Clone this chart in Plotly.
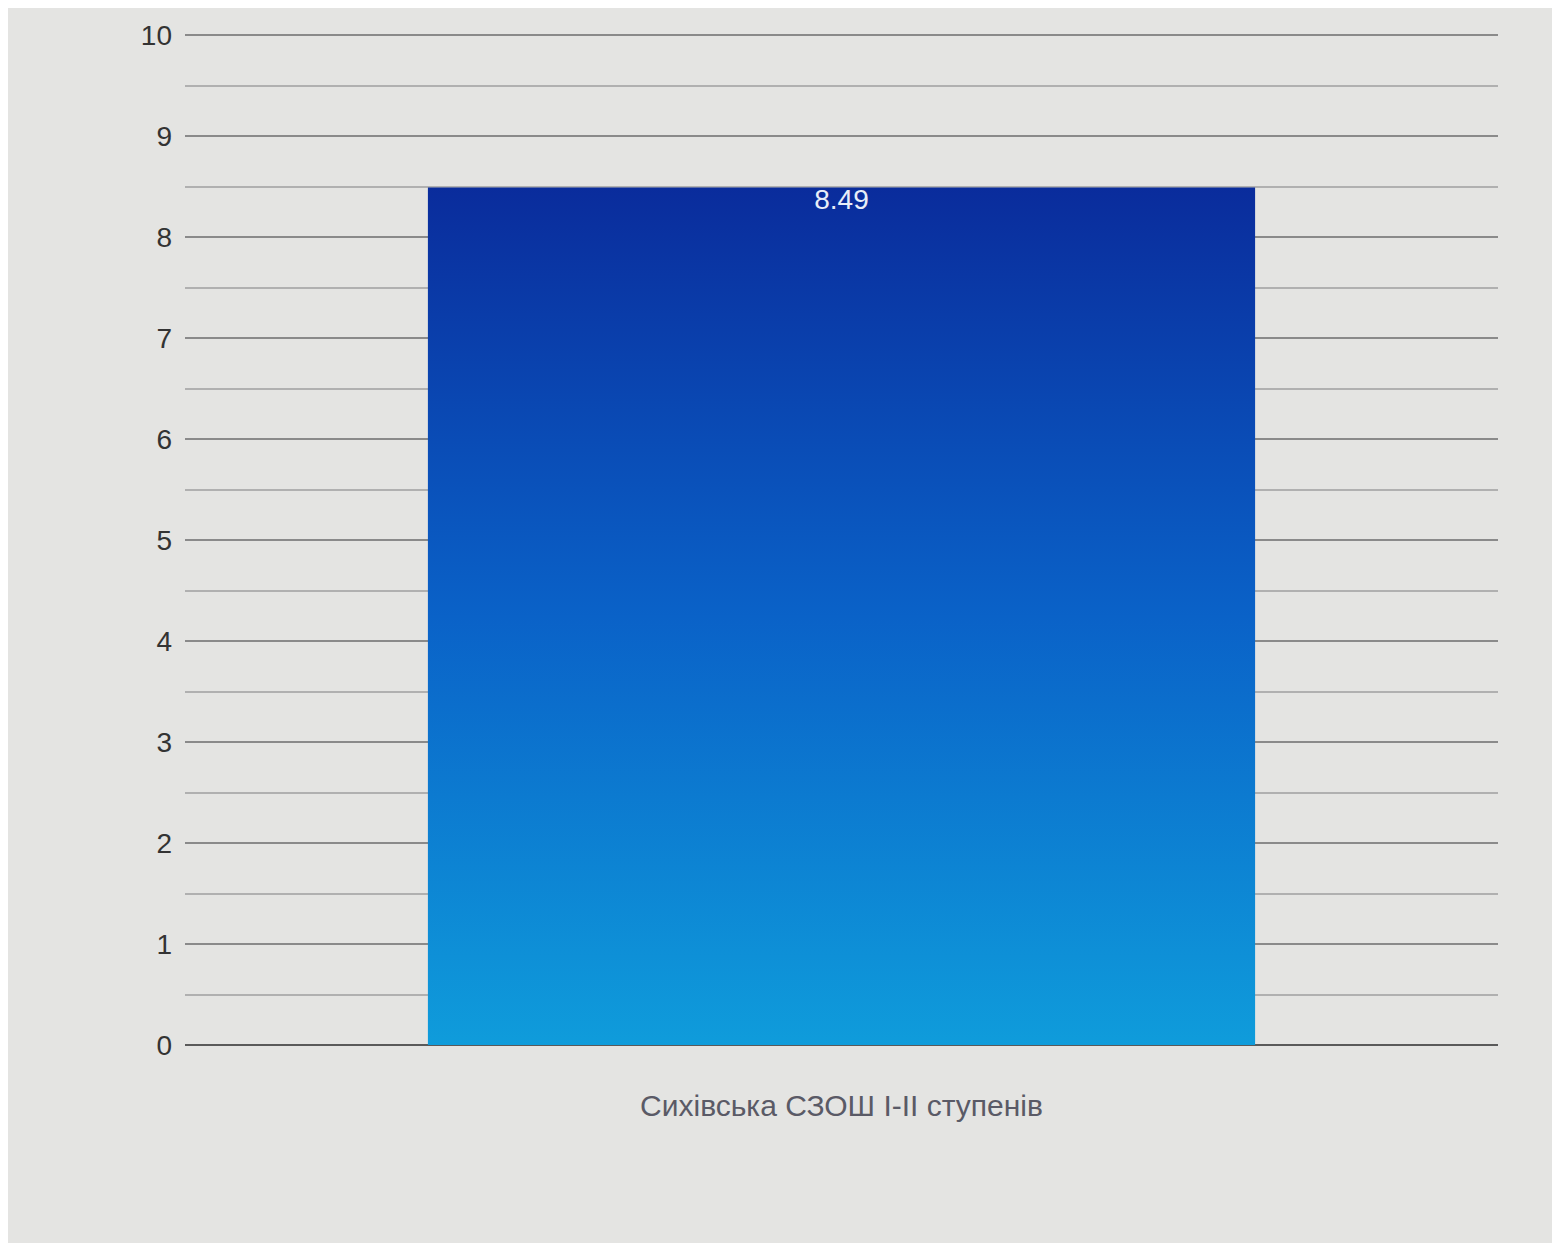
import plotly.graph_objects as go

categories = ["Сихівська СЗОШ І-ІІ ступенів"]
values = [8.49]
tick_vals = [0, 1, 2, 3, 4, 5, 6, 7, 8, 9, 10]
tick_text = [str(v) for v in tick_vals]

bar_width = 0.63
fig = go.Figure()

for i, (cat, val) in enumerate(zip(categories, values)):
    x0, x1 = i - bar_width / 2, i + bar_width / 2
    fig.add_trace(go.Scatter(
        x=[x0, x1, x1, x0, x0], y=[0, 0, val, val, 0],
        mode="lines", fill="toself", line=dict(width=0, color="rgba(0,0,0,0)"),
        fillgradient=dict(type="vertical",
                          colorscale=[[0, "#0f9cdb"], [0.5, "#0a62c8"], [1, "#0a2c9c"]]),
        hoverinfo="skip", showlegend=False))
    fig.add_trace(go.Scatter(
        x=[i], y=[val], mode="text", text=[f"{val:.2f}"],
        textposition="bottom center",
        textfont=dict(color="#e8eef8", size=28, family="Liberation Sans Narrow, Liberation Sans"),
        showlegend=False, hoverinfo="skip"))

fig.update_layout(
    width=1560, height=1243,
    margin=dict(l=177, r=70, t=20, b=206),
    paper_bgcolor="#e4e4e2", plot_bgcolor="#e4e4e2",
    showlegend=False,
    xaxis=dict(range=[-0.5, 0.5], tickmode="array", tickvals=list(range(len(categories))),
               ticktext=categories, showgrid=False, zeroline=False,
               tickfont=dict(size=30, color="#5a5a66", family="Liberation Sans Narrow, Liberation Sans"),
               ticks="", ticklabelstandoff=40),
    yaxis=dict(range=[0, 10.02], tickmode="array", tickvals=tick_vals, ticktext=tick_text,
               showgrid=True, gridcolor="#8a8a8a", gridwidth=2,
               minor=dict(dtick=0.5, showgrid=True, gridcolor="#b0b0b0", gridwidth=2),
               zeroline=True, zerolinecolor="#5a5a5a", zerolinewidth=2,
               tickfont=dict(size=28, color="#333333", family="Liberation Sans Narrow, Liberation Sans"),
               ticks="", ticklabelstandoff=12),
)

fig.write_html("out.html")
